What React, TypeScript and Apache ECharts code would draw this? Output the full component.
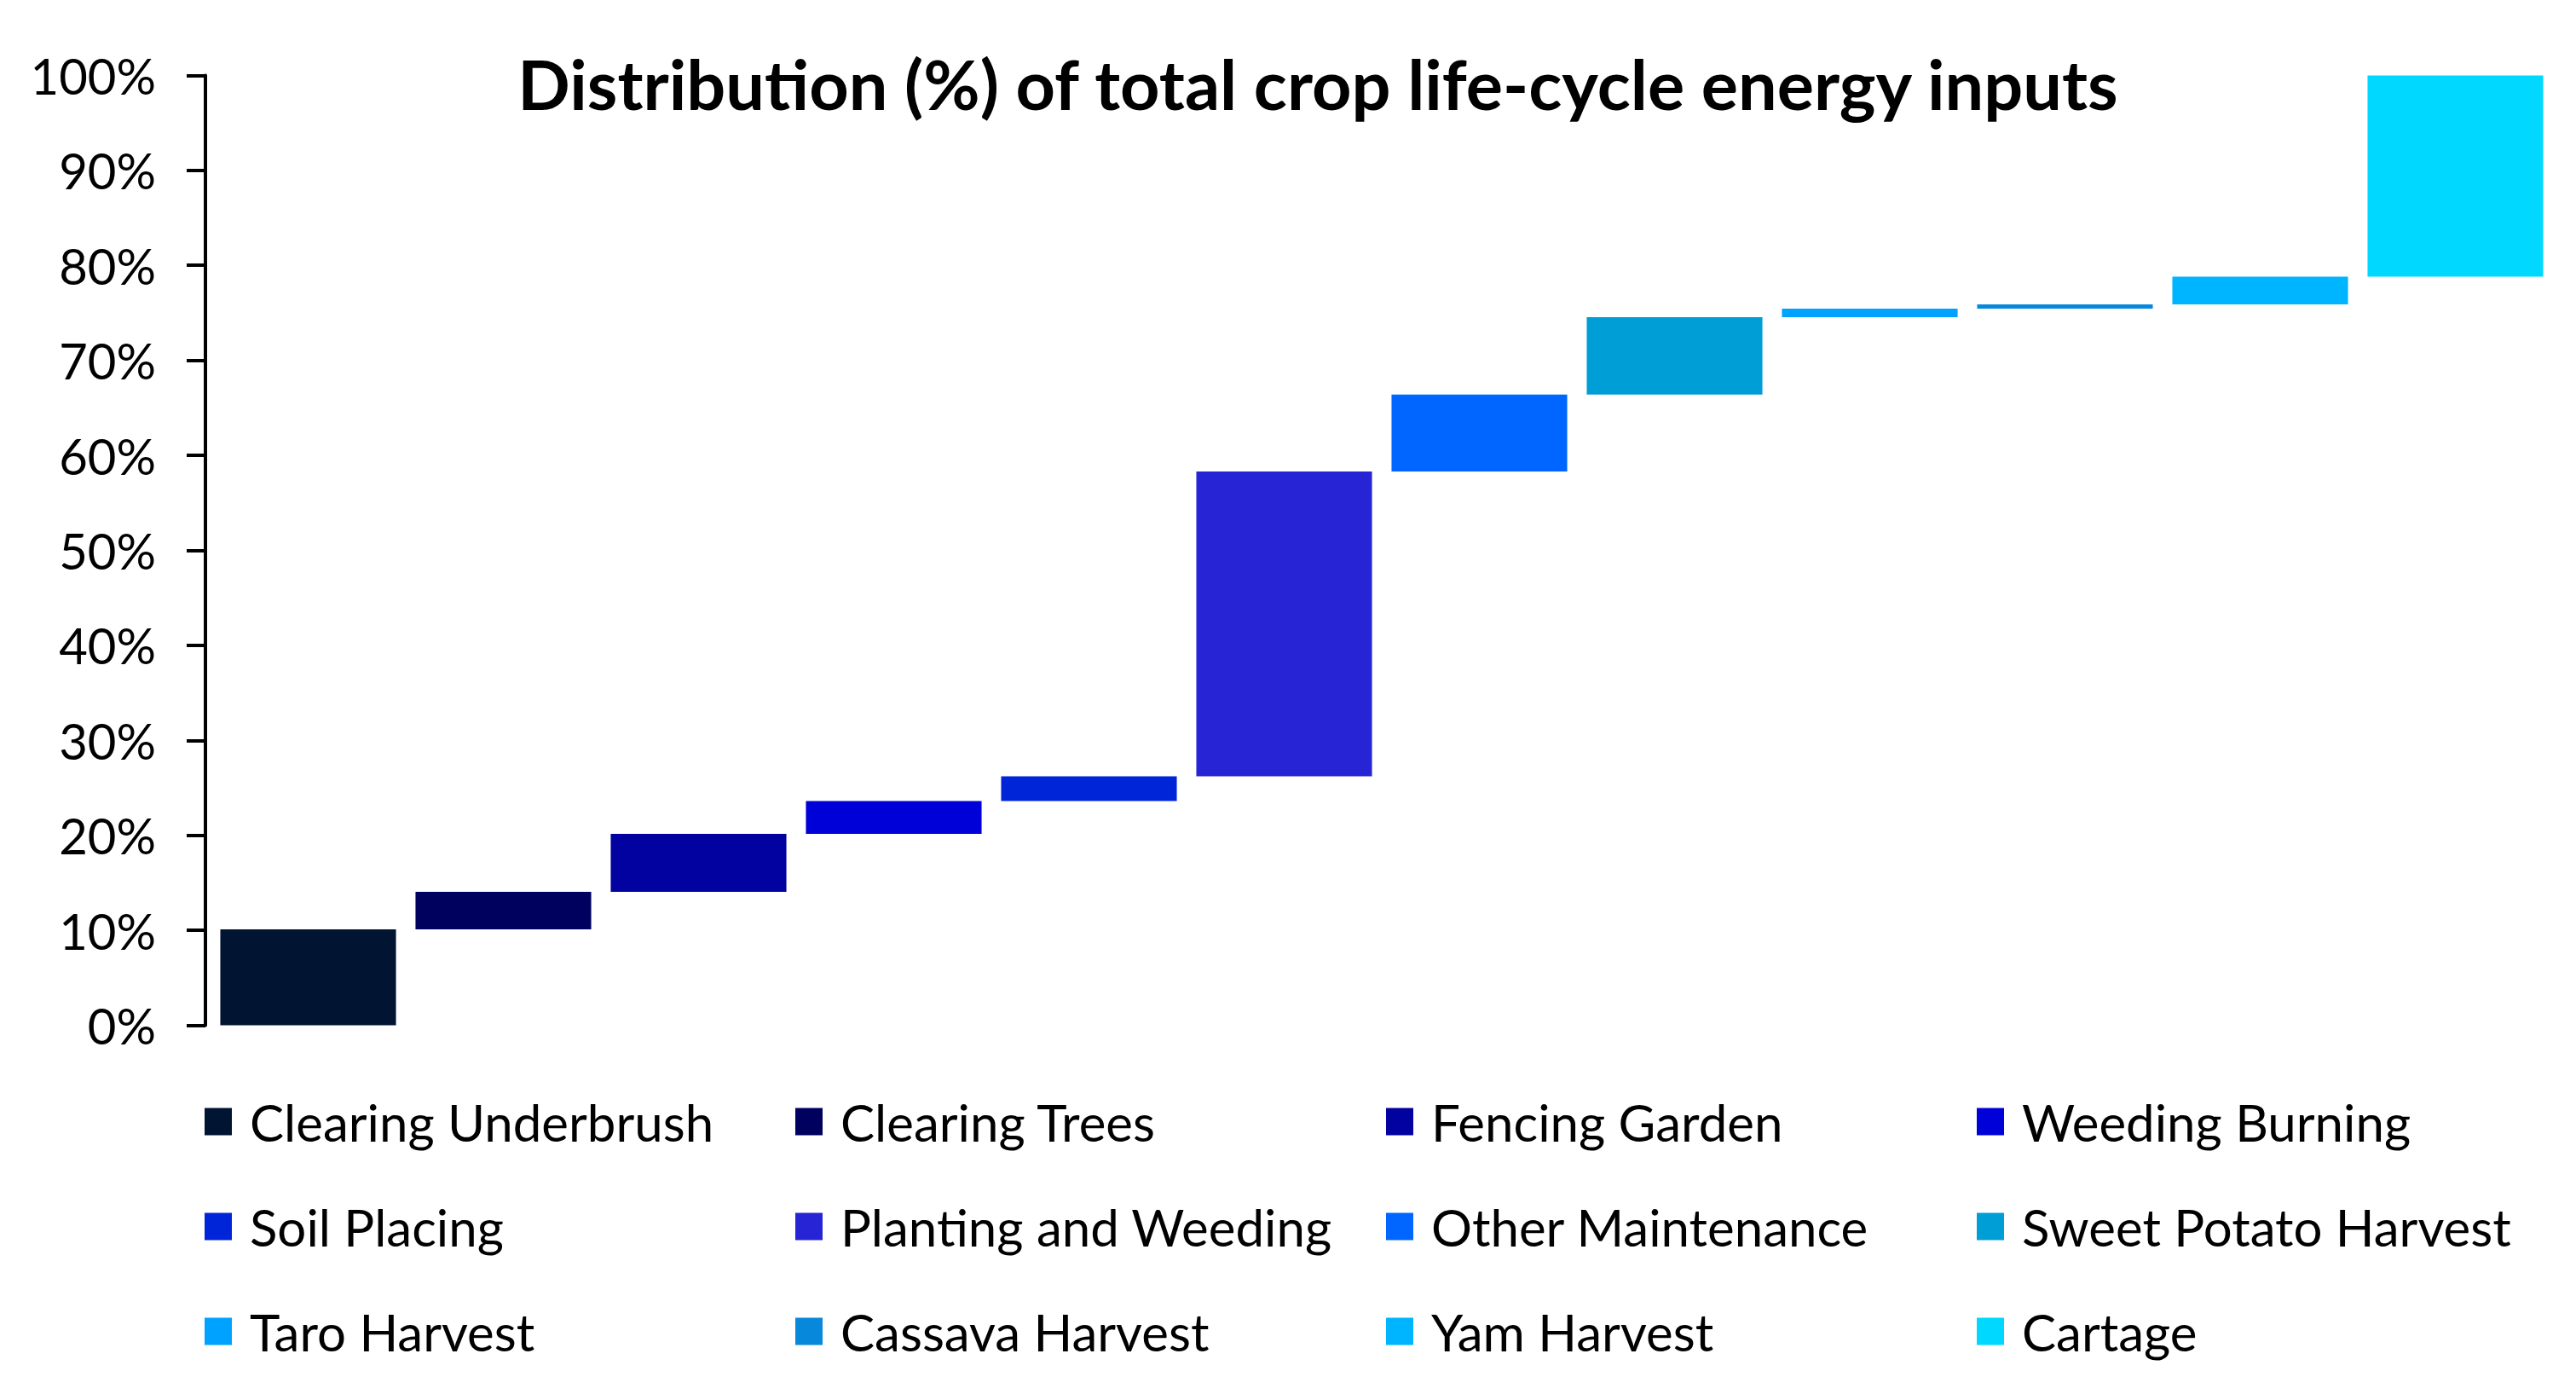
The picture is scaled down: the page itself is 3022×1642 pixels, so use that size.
import React, { useEffect, useRef } from "react";
import * as echarts from "echarts";

const categories = [
  "Clearing Underbrush",
  "Clearing Trees",
  "Fencing Garden",
  "Weeding Burning",
  "Soil Placing",
  "Planting and Weeding",
  "Other Maintenance",
  "Sweet Potato Harvest",
  "Taro Harvest",
  "Cassava Harvest",
  "Yam Harvest",
  "Cartage",
];

// share (%) of each step
const shares = [10.1, 3.95, 6.1, 3.45, 2.6, 32.1, 8.1, 8.15, 0.9, 0.45, 2.9, 21.2];

const colors = [
  "#011432",
  "#00005E",
  "#0202A0",
  "#0000D8",
  "#0024D8",
  "#2624D4",
  "#0066FF",
  "#009ED6",
  "#00A2FF",
  "#0888DA",
  "#00B5FF",
  "#00D8FF",
];

const yTicks = [0, 10, 20, 30, 40, 50, 60, 70, 80, 90, 100];

const titleText = "Distribution (%) of total crop life-cycle energy inputs";

const FONT = "Lato, 'Open Sans', sans-serif";

export default function App() {
  const ref = useRef<HTMLDivElement>(null);

  useEffect(() => {
    if (!ref.current) return;
    const chart = echarts.init(ref.current, undefined, { renderer: "svg" });

    const starts: number[] = [];
    let acc = 0;
    shares.forEach((v) => {
      starts.push(Math.round(acc * 100) / 100);
      acc += v;
    });

    const series: any[] = [
      {
        name: "__base",
        type: "bar",
        stack: "w",
        barWidth: "90%",
        silent: true,
        itemStyle: { color: "transparent" },
        data: starts,
      },
      ...categories.map((c, i) => ({
        name: c,
        type: "bar",
        stack: "w",
        barWidth: "90%",
        itemStyle: { color: colors[i] },
        data: categories.map((_, j) => (j === i ? shares[i] : "-")),
      })),
    ];

    chart.setOption({
      animation: false,
      backgroundColor: "#ffffff",
      graphic: [
        {
          type: "text",
          x: 1546,
          y: 97,
          style: {
            text: titleText,
            font: `bold 81px ${FONT}`,
            fill: "#000000",
            textAlign: "center",
            textVerticalAlign: "middle",
          },
        },
      ],
      grid: {
        left: 247,
        top: 88.4,
        width: 2748,
        height: 1114.1,
        containLabel: false,
      },
      xAxis: {
        type: "category",
        data: categories,
        axisLine: { show: false },
        axisTick: { show: false },
        axisLabel: { show: false },
        splitLine: { show: false },
      },
      yAxis: {
        type: "value",
        min: yTicks[0],
        max: yTicks[yTicks.length - 1],
        interval: 10,
        offset: 6,
        axisLine: { show: true, lineStyle: { color: "#000000", width: 4 } },
        axisTick: { show: true, length: 22, lineStyle: { color: "#000000", width: 4 } },
        splitLine: { show: false },
        axisLabel: {
          formatter: "{value}%",
          margin: 58,
          fontSize: 58,
          fontFamily: FONT,
          color: "#000000",
        },
      },
      legend: {
        data: categories,
        icon: "rect",
        itemWidth: 32,
        itemHeight: 32,
        left: 235,
        top: 1260,
        width: 2800,
        itemGap: 22,
        orient: "horizontal",
        selectedMode: false,
        textStyle: {
          fontSize: 60,
          fontFamily: FONT,
          color: "#000000",
          width: 618,
          lineHeight: 101,
          padding: [0, 0, 0, 16],
        },
      },
      series,
    });

    return () => chart.dispose();
  }, []);

  return (
    <div
      ref={ref}
      style={{ position: "absolute", left: 0, top: 0, width: 3022, height: 1642 }}
    />
  );
}
